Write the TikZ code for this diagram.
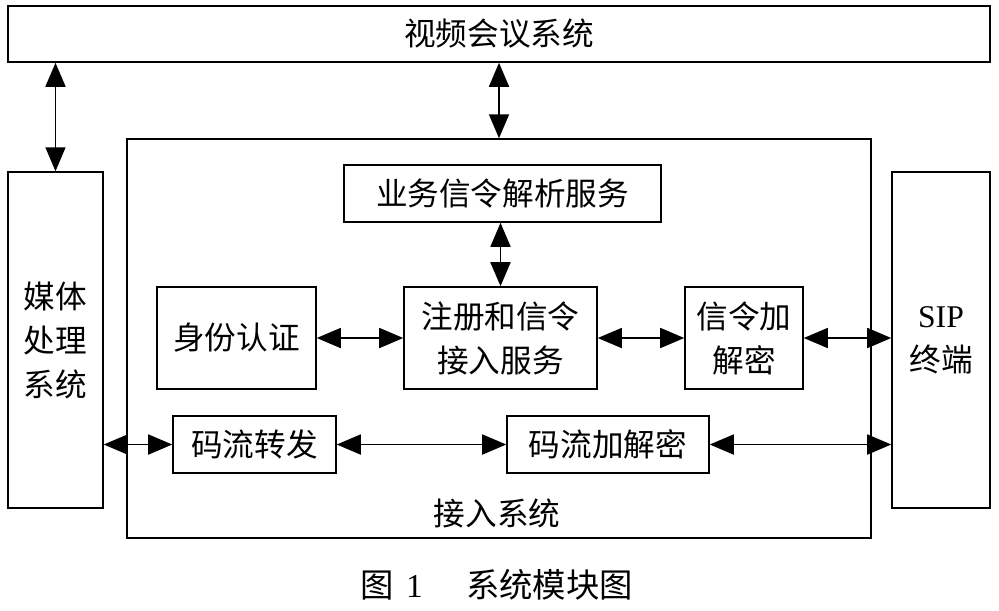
\documentclass[tikz,border=0pt]{standalone}
\usepackage{fontspec}
\setmainfont{Liberation Serif}
\newfontfamily\cjk{Noto Sans CJK SC}
\usetikzlibrary{arrows.meta}
\tikzset{
  box/.style={draw, line width=0.9pt, inner sep=0pt, align=center,
    font=\cjk\fontsize{18}{25}\selectfont},
  txt/.style={inner sep=0pt, align=center, font=\cjk\fontsize{18}{25}\selectfont},
  darr/.style={line width=1pt,
    arrows={Triangle[length=0.48cm,width=0.4cm]-Triangle[length=0.48cm,width=0.4cm]}}
}
\begin{document}
\begin{tikzpicture}[x=0.02cm,y=-0.02cm]
\useasboundingbox (0,0) rectangle (999,610);
\node[box, minimum width=19.64cm, minimum height=1.12cm] (T) at (499,34) {视频会议系统};
\node[box, minimum width=1.9cm, minimum height=6.72cm] (L) at (55.5,340) {媒体\\处理\\系统};
\node[box, minimum width=14.88cm, minimum height=7.98cm] (M) at (499,338.5) {};
\node[box, minimum width=1.96cm, minimum height=6.72cm] (R) at (941,340) {{\rmfamily SIP}\\终端};
\node[box, minimum width=6.34cm, minimum height=1.14cm] (YW) at (502.5,193.5) {业务信令解析服务};
\node[box, minimum width=3.18cm, minimum height=2.04cm] (SF) at (236.5,338) {身份认证};
\node[box, minimum width=3.86cm, minimum height=2.04cm] (ZC) at (500.5,338) {注册和信令\\接入服务};
\node[box, minimum width=2.36cm, minimum height=2.04cm] (XL) at (744,338) {信令加\\解密};
\node[box, minimum width=3.26cm, minimum height=1.14cm] (MZ) at (254.5,444.5) {码流转发};
\node[box, minimum width=4.04cm, minimum height=1.14cm] (MJ) at (608,444.5) {码流加解密};
\node[txt] (lab) at (497,513) {接入系统};
\node[txt, font=\cjk\fontsize{19}{25}\selectfont] (cap) at (497,585) {图\hspace{0.35em}{\rmfamily 1}\hspace{1.3em}系统模块图};
% connectors
\draw[darr] (L.north |- T.south) -- (L.north);
\draw[darr] (M.north |- T.south) -- (M.north);
\draw[darr] (YW.south -| ZC.north) -- (ZC.north);
\draw[darr] (SF.east) -- (ZC.west);
\draw[darr] (ZC.east) -- (XL.west);
\draw[darr] (XL.east) -- (XL.east -| R.west);
\draw[darr] (MZ.west -| L.east) -- (MZ.west);
\draw[darr] (MZ.east) -- (MJ.west);
\draw[darr] (MJ.east) -- (MJ.east -| R.west);
\end{tikzpicture}
\end{document}
